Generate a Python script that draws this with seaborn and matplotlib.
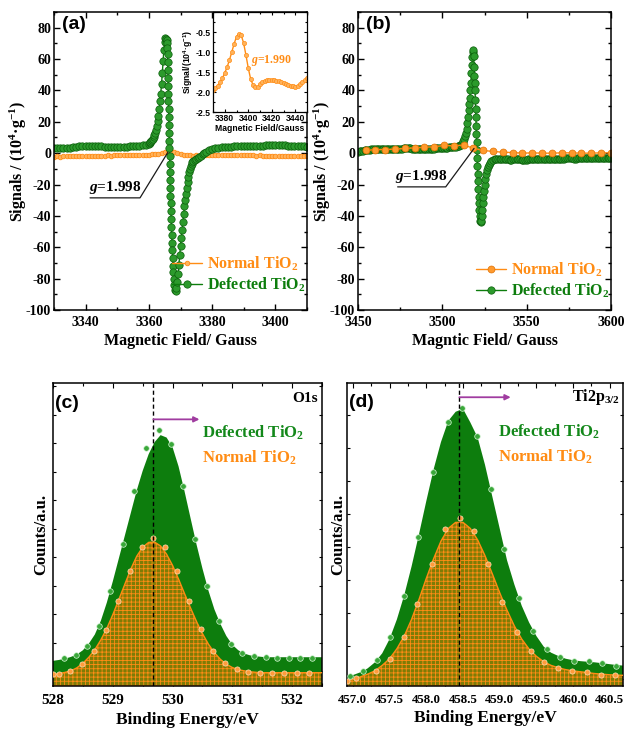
import numpy as np
import matplotlib
matplotlib.use('Agg')
import matplotlib.pyplot as plt
import seaborn as sns
from matplotlib.ticker import MultipleLocator, FormatStrFormatter, NullFormatter
from matplotlib.font_manager import FontProperties

sns.set_theme(style='ticks')
plt.rcParams['font.family'] = ['Liberation Serif', 'DejaVu Serif']
plt.rcParams['font.weight'] = 'bold'
plt.rcParams['axes.labelweight'] = 'bold'
plt.rcParams['mathtext.fontset'] = 'custom'
plt.rcParams['mathtext.it'] = 'Liberation Serif:italic:bold'
plt.rcParams['mathtext.rm'] = 'Liberation Serif:bold'
plt.rcParams['mathtext.bf'] = 'Liberation Serif:bold'
plt.rcParams['mathtext.default'] = 'regular'
plt.rcParams['axes.unicode_minus'] = False
plt.rcParams['axes.edgecolor'] = 'black'
plt.rcParams['axes.linewidth'] = 1.1
plt.rcParams['xtick.color'] = 'black'
plt.rcParams['ytick.color'] = 'black'
plt.rcParams['text.color'] = 'black'
plt.rcParams['axes.labelcolor'] = 'black'
plt.rcParams['hatch.linewidth'] = 0.6
plt.rcParams['hatch.color'] = '#ff8c14'

ORANGE = '#ff8c14'
GREEN = '#0d7d0d'
GREEN_TXT = '#13881a'
PURPLE = '#a03ca0'
OLIVE = '#7e7c06'

# ---------------- (a) EPR data, 3330-3410 G ----------------
a_norm_x = np.arange(3330, 3411, 1.0)
a_norm_y = [-2.2, -2.1, -2.2, -2.0, -2.1, -1.9, -2.0, -1.8, -1.9, -1.8,
            -1.7, -1.8, -1.6, -1.7, -1.5, -1.6, -1.5, -1.4, -1.5, -1.4,
            -1.3, -1.4, -1.2, -1.3, -1.2, -1.1, -1.2, -1.0, -1.1, -1.0,
            -0.9, -0.8, -0.6, -0.4, 0.0, 0.5, 1.0, 1.2, 0.8, 0.2,
            -0.4, -0.9, -1.2, -1.4, -1.5, -1.4, -1.5, -1.3, -1.4, -1.2,
            -1.3, -1.2, -1.1, -1.2, -1.0, -1.1, -1.2, -1.0, -1.1, -1.2,
            -1.3, -1.2, -1.4, -1.3, -1.5, -1.4, -1.6, -1.5, -1.7, -1.6,
            -1.8, -1.7, -1.9, -1.8, -2.0, -1.9, -2.0, -2.1, -2.0, -2.1,
            -2.0]

a_def_flat1_x = np.arange(3330, 3361, 1.0)
a_def_flat1_y = [3.0, 3.1, 3.2, 3.4, 3.5, 3.6, 3.9, 4.1, 4.3, 4.5,
                 4.6, 4.7, 4.6, 4.5, 4.4, 4.3, 4.1, 4.0, 3.9, 3.9,
                 4.0, 4.0, 4.1, 4.2, 4.3, 4.4, 4.5, 4.7, 5.0, 5.4, 6.0]
a_def_rise_x = np.arange(3360.25, 3365.5, 0.25)
a_def_rise_y = [6.5, 7.0, 7.6, 8.3, 9.0, 10.0, 11.3, 13.0, 15.0, 17.5,
                20.5, 24.0, 28.0, 33.0, 38.0, 44.0, 51.0, 59.0, 66.0, 71.0, 73.5]
a_def_fall_x = [3365.5, 3365.6, 3365.7, 3365.8, 3365.9, 3365.95, 3366.0, 3366.05,
                3366.1, 3366.15, 3366.2, 3366.25, 3366.3, 3366.35, 3366.4, 3366.45,
                3366.5, 3366.55, 3366.6, 3366.65, 3366.7, 3366.75, 3366.8, 3366.88,
                3366.96, 3367.04, 3367.13, 3367.22, 3367.32, 3367.42, 3367.53,
                3367.65, 3367.78, 3367.92, 3368.08, 3368.25, 3368.45]
a_def_fall_y = [73, 72, 70, 67, 63, 58, 53, 48, 43, 38, 33, 28, 23, 18, 13, 8, 3,
                -2, -7, -12, -17, -22, -27, -32, -37, -42, -47, -52, -57, -62,
                -67, -72, -76, -80, -84, -87, -88]
a_def_rec_x = [3368.7, 3369.0, 3369.25, 3369.5, 3369.75, 3370.0, 3370.25, 3370.5,
               3370.75, 3371.0, 3371.25, 3371.5, 3371.75, 3372.0, 3372.25, 3372.5,
               3372.75, 3373.0, 3373.25, 3373.5, 3373.75, 3374.0, 3374.5, 3375.0,
               3375.5, 3376.0, 3376.5, 3377.0, 3377.5, 3378.0, 3379.0, 3380.0,
               3381.0, 3382.0, 3383.0]
a_def_rec_y = [-86, -82, -77, -71, -65, -59, -54, -49, -44, -39, -34, -30, -26,
               -22, -18.5, -15, -12, -10, -8, -6.8, -5.8, -5, -4.2, -3.5, -3,
               -2.3, -1.6, -0.8, 0, 0.8, 1.8, 2.6, 3.1, 3.5, 3.8]
a_def_flat2_x = np.arange(3384, 3411, 1.0)
a_def_flat2_y = [4.0, 4.1, 4.2, 4.3, 4.3, 4.4, 4.5, 4.5, 4.6, 4.7, 4.7, 4.8, 4.8,
                 4.9, 4.9, 5.0, 5.0, 5.0, 4.9, 4.9, 4.8, 4.7, 4.6, 4.5, 4.4, 4.3, 4.2]

# inset of (a)
in_x = np.arange(3370, 3451, 2.0)
in_y = [-1.95, -1.90, -1.84, -1.76, -1.66, -1.52, -1.38, -1.20, -1.00, -0.79,
        -0.62, -0.54, -0.58, -0.77, -1.07, -1.40, -1.67, -1.82, -1.88, -1.87,
        -1.81, -1.76, -1.73, -1.71, -1.70, -1.70, -1.71, -1.72, -1.73, -1.75,
        -1.77, -1.79, -1.82, -1.84, -1.86, -1.87, -1.85, -1.81, -1.76, -1.71, -1.65]

# ---------------- (b) EPR data, 3450-3600 G ----------------
b_norm_x = [3454.5, 3460.3, 3466.1, 3471.9, 3477.7, 3483.6, 3489.4, 3495.2, 3501.0,
            3506.8, 3512.6, 3518.4, 3524.2, 3530.0, 3535.9, 3541.7, 3547.5, 3553.3,
            3559.1, 3564.9, 3570.7, 3576.6, 3582.4, 3588.2, 3594.0, 3599.8]
b_norm_y = [1.7, 2.3, 2.3, 2.6, 3.0, 3.4, 3.8, 4.1, 4.9, 4.7, 5.1, 3.2, 1.7, 1.1,
            0.6, 0.4, 0.0, 0.2, 0.0, 0.0, 0.2, 0.2, 0.0, 0.0, 0.2, 0.2]

b_def_flat1_x = np.arange(3450, 3511, 1.0)
b_def_flat1_y = [1.0, 1.2, 1.5, 1.6, 1.8, 2.0, 2.2, 2.3, 2.4, 2.5,
                 2.6, 2.7, 2.8, 2.8, 2.9, 2.9, 2.8, 2.7, 2.6, 2.5,
                 2.4, 2.4, 2.5, 2.6, 2.7, 2.8, 2.9, 3.0, 3.0, 3.1,
                 3.1, 3.0, 2.9, 2.8, 2.7, 2.6, 2.6, 2.7, 2.8, 2.8,
                 2.9, 2.9, 2.8, 2.7, 2.8, 2.9, 3.0, 3.1, 3.2, 3.3,
                 3.4, 3.5, 3.5, 3.6, 3.7, 3.8, 3.9, 4.0, 4.2, 4.4, 4.7]
b_def_rise_x = [3510.5, 3511, 3511.5, 3512, 3512.5, 3513, 3513.5, 3514, 3514.4,
                3514.8, 3515.2, 3515.6, 3516, 3516.3, 3516.6, 3516.9, 3517.2,
                3517.5, 3517.8, 3518.1, 3518.4]
b_def_rise_y = [5.0, 5.3, 5.8, 6.6, 7.7, 9.2, 11.0, 13.0, 15.5, 19.0, 23.0, 27.5,
                31.5, 35.0, 40.0, 45.0, 51.0, 56.0, 61.0, 64.5, 66.0]
b_def_fall_x = [3518.6, 3518.8, 3519.0, 3519.2, 3519.4, 3519.6, 3519.75, 3519.9,
                3520.05, 3520.2, 3520.35, 3520.5, 3520.65, 3520.8, 3520.95, 3521.1,
                3521.3, 3521.5, 3521.7, 3521.95, 3522.2, 3522.5, 3522.8, 3523.1]
b_def_fall_y = [62, 55, 49, 45, 40, 34, 28, 23, 17, 12, 7, 2, -3, -8, -13, -18,
                -23, -28, -32, -36, -40, -43, -44, -43.5]
b_def_rec_x = [3523.4, 3523.7, 3524.0, 3524.3, 3524.6, 3525.0, 3525.5, 3526.0,
               3526.5, 3527.0, 3527.5, 3528, 3529, 3530, 3531, 3532, 3533, 3534, 3535]
b_def_rec_y = [-40, -36, -32, -28, -24, -20, -16.5, -13.5, -11, -9, -7.5, -6.3,
               -5.0, -4.3, -3.9, -3.7, -3.6, -3.6, -3.7]
b_def_flat2_x = np.arange(3536, 3601, 1.0)
b_def_flat2_y = [-3.8, -3.9, -4.0, -4.0, -4.1, -4.1, -4.0, -4.0, -3.9, -3.9,
                 -4.0, -4.1, -4.2, -4.2, -4.1, -4.0, -3.9, -3.8, -3.8, -3.7,
                 -3.7, -3.8, -3.9, -3.9, -3.8, -3.7, -3.6, -3.6, -3.5, -3.5,
                 -3.6, -3.7, -3.8, -3.8, -3.7, -3.6, -3.5, -3.4, -3.4, -3.3,
                 -3.3, -3.4, -3.5, -3.5, -3.4, -3.3, -3.2, -3.2, -3.1, -3.1,
                 -3.2, -3.3, -3.4, -3.4, -3.3, -3.2, -3.1, -3.0, -3.0, -2.9,
                 -3.0, -3.1, -3.2, -3.1, -3.0]

# ---------------- (c) XPS O1s (arbitrary units) ----------------
c_fit_x = np.round(np.arange(528.0, 532.51, 0.1), 2)
c_def_fit = [8.3, 8.6, 9.0, 9.6, 10.4, 11.8, 14.0, 17.0, 21.5, 27.5,
             34.5, 42.0, 49.5, 57.0, 64.5, 71.0, 76.5, 80.5, 82.8, 82.0,
             78.8, 72.5, 64.3, 55.5, 46.8, 38.8, 31.5, 25.3, 20.5, 16.5,
             13.6, 11.8, 10.7, 10.1, 9.8, 9.6, 9.5, 9.5, 9.5, 9.5,
             9.5, 9.5, 9.5, 9.5, 9.5, 9.5]
c_norm_fit = [3.9, 4.1, 4.5, 5.0, 6.0, 7.5, 9.5, 12.0, 15.2, 19.0,
              23.5, 28.5, 33.5, 38.5, 42.8, 45.8, 47.4, 47.5, 46.2, 43.5,
              39.8, 35.3, 30.5, 25.8, 21.3, 17.3, 13.8, 11.0, 8.8, 7.2,
              6.1, 5.4, 5.0, 4.7, 4.5, 4.4, 4.4, 4.4, 4.4, 4.4,
              4.4, 4.4, 4.4, 4.4, 4.4, 4.4]
c_def_pts_x = [528.19, 528.39, 528.57, 528.77, 528.96, 529.17, 529.36, 529.56, 529.78,
               529.97, 530.18, 530.38, 530.58, 530.78, 530.97, 531.17, 531.36, 531.56,
               531.75, 531.94, 532.14, 532.33]
c_def_pts_y = [9.2, 10.3, 13.1, 19.9, 31.5, 46.9, 64.3, 78.7, 84.4, 79.8, 65.9, 48.6,
               32.9, 21.5, 14.0, 11.0, 9.9, 9.6, 9.4, 9.4, 9.4, 9.4]
c_norm_pts_x = [528.0, 528.1, 528.29, 528.49, 528.69, 528.89, 529.08, 529.28, 529.49,
                529.68, 529.87, 530.08, 530.28, 530.47, 530.67, 530.87, 531.07, 531.27,
                531.47, 531.67, 531.87, 532.08, 532.28]
c_norm_pts_y = [3.9, 4.1, 5.0, 7.2, 11.6, 18.4, 27.9, 38.1, 46.0, 48.9, 46.0, 38.1,
                28.1, 18.8, 11.6, 7.7, 5.7, 4.7, 4.4, 4.4, 4.4, 4.4, 4.4]
c_peak_line = 529.68
c_shift = (529.68, 530.45)
c_xticks = [528, 529, 530, 531, 532]

# ---------------- (d) XPS Ti2p3/2 (arbitrary units) ----------------
d_fit_x = np.round(np.arange(456.9, 460.71, 0.1), 2)
d_def_fit = [3.2, 3.6, 4.5, 5.8, 7.8, 10.8, 15.5, 22.0, 30.0, 39.5, 50.0,
             61.0, 71.5, 80.5, 87.5, 90.5, 91.5, 87.0, 82.0, 73.0, 62.5,
             52.0, 41.5, 33.5, 26.5, 21.0, 16.5, 13.0, 11.0, 9.9, 9.0,
             8.5, 8.2, 8.0, 7.8, 7.5, 7.2, 6.9, 6.7]
d_norm_fit = [1.5, 2.2, 3.0, 3.9, 5.0, 6.8, 9.0, 12.3, 16.5, 22.0, 28.5,
              35.5, 42.0, 47.8, 52.0, 54.0, 54.0, 52.0, 48.2, 43.0, 37.0,
              30.8, 25.0, 19.8, 15.5, 12.2, 9.8, 8.0, 6.8, 6.0, 5.4,
              5.0, 4.7, 4.4, 4.1, 3.9, 3.7, 3.6, 3.5]
d_def_pts_x = [456.96, 457.14, 457.33, 457.51, 457.70, 457.89, 458.09, 458.29, 458.49,
               458.69, 458.88, 459.06, 459.26, 459.45, 459.64, 459.82, 460.01, 460.21,
               460.40, 460.58]
d_def_pts_y = [3.4, 5.1, 8.7, 16.3, 29.8, 49.1, 70.6, 87.1, 91.6, 82.6, 65.0, 45.3,
               29.0, 18.0, 12.1, 9.6, 8.4, 8.1, 7.6, 6.7]
d_norm_pts_x = [456.92, 457.04, 457.31, 457.50, 457.69, 457.88, 458.08, 458.25, 458.46,
                458.65, 458.84, 459.03, 459.23, 459.42, 459.61, 459.80, 459.99, 460.19,
                460.38, 460.57]
d_norm_pts_y = [1.7, 2.5, 5.1, 9.0, 16.3, 27.2, 40.2, 51.7, 55.4, 51.1, 40.2, 27.8,
                17.8, 11.5, 7.9, 6.0, 5.1, 4.5, 3.7, 3.7]
d_peak_line = 458.45
d_shift = (458.45, 459.15)
d_xticks = [457.0, 457.5, 458.0, 458.5, 459.0, 459.5, 460.0, 460.5]

# ---------------- figure & axes ----------------
W, H = 624, 731
fig = plt.figure(figsize=(W / 100, H / 100), dpi=100)


def px_axes(l, t, r, b):
    return fig.add_axes([l / W, 1 - b / H, (r - l) / W, (b - t) / H])


axA = px_axes(54, 12, 307, 310)
axB = px_axes(358, 12, 611, 310)
axIn = px_axes(213, 12, 307, 112)
axC = px_axes(53, 383, 322, 686)
axD = px_axes(347, 383, 623, 686)

serif_leg = FontProperties(family='Liberation Serif', weight='bold', size=11.5)
sans_small = FontProperties(family='Liberation Sans', weight='bold', size=6.2)


def style_epr(ax):
    ax.tick_params(which='both', direction='in', top=True, right=True,
                   labelsize=10, width=1.0, pad=2)
    ax.tick_params(axis='x', which='both', pad=4.5)
    ax.tick_params(which='major', length=4)
    ax.tick_params(which='minor', length=2.2)
    ax.set_ylim(-100, 90)
    ax.yaxis.set_major_locator(MultipleLocator(20))
    ax.yaxis.set_minor_locator(MultipleLocator(10))
    ax.set_ylabel('Signals / (10$^4$·g$^{-1}$)', fontsize=11.5, labelpad=-2)


def panel_label(ax, s, x, y):
    ax.text(x, y, s, transform=ax.transAxes, ha='left', va='top',
            fontfamily='Liberation Sans', fontweight='bold', fontsize=14)


def g_note(ax, text, xt, yt, x1, x2, xp, yp):
    ax.text(xt, yt, text, ha='center', va='bottom', fontsize=11)
    ax.plot([x1, x2, xp], [yt - 1.5, yt - 1.5, yp], color='k', lw=0.9)


green_kw = dict(marker='o', ms=5.3, mfc='#2c9a2c', mec='#0b5e0b', mew=0.5,
                lw=1.0, color=GREEN, estimator=None, sort=False)

# ---- panel (a)
sns.lineplot(x=a_norm_x, y=a_norm_y, ax=axA, color=ORANGE, lw=1.0, marker='o',
             ms=3.3, mfc='#ffb35c', mec=ORANGE, mew=0.6, estimator=None, sort=False,
             label='Normal TiO$_2$')
a_def_x = np.concatenate([a_def_flat1_x, a_def_rise_x, a_def_fall_x, a_def_rec_x, a_def_flat2_x])
a_def_y = np.concatenate([a_def_flat1_y, a_def_rise_y, a_def_fall_y, a_def_rec_y, a_def_flat2_y])
sns.lineplot(x=a_def_x, y=a_def_y, ax=axA, label='Defected TiO$_2$', **green_kw)
axA.set_xlim(3330, 3410)
axA.xaxis.set_major_locator(MultipleLocator(20))
axA.xaxis.set_minor_locator(MultipleLocator(10))
style_epr(axA)
axA.set_xlabel('Magnetic Field/ Gauss', fontsize=11.5, labelpad=3)
h, l = axA.get_legend_handles_labels()
axA.legend(h, l, loc='lower right', bbox_to_anchor=(1.03, 0.02), frameon=False,
           prop=serif_leg, labelcolor='linecolor', handlelength=1.9,
           handletextpad=0.3, labelspacing=0.2, borderaxespad=0.2)
panel_label(axA, '(a)', 0.03, 0.985)
g_note(axA, '$\\mathit{g}$=1.998', 3349.3, -27.0, 3341.4, 3357.2, 3366.0, 0.5)

# ---- inset
sns.lineplot(x=in_x, y=in_y, ax=axIn, color=ORANGE, lw=1.0, marker='o', ms=3.0,
             mfc='#ffb35c', mec=ORANGE, mew=0.5, estimator=None, sort=False)
axIn.set_xlim(3370, 3450)
axIn.set_ylim(-2.5, 0)
axIn.set_xticks([3380, 3400, 3420, 3440])
axIn.set_yticks([-2.5, -2.0, -1.5, -1.0, -0.5])
axIn.yaxis.set_major_formatter(FormatStrFormatter('%.1f'))
axIn.xaxis.set_minor_locator(MultipleLocator(10))
axIn.yaxis.set_minor_locator(MultipleLocator(0.25))
axIn.tick_params(which='both', direction='in', top=True, right=True, width=0.8, pad=1.5)
axIn.tick_params(which='major', length=2.5)
axIn.tick_params(which='minor', length=1.5)
for lab in axIn.get_xticklabels() + axIn.get_yticklabels():
    lab.set_fontproperties(sans_small)
axIn.set_xlabel('Magnetic Field/Gauss', fontproperties=sans_small, labelpad=0.5)
axIn.set_ylabel('Signal/(10$^4$·g$^{-1}$)', fontproperties=sans_small, labelpad=0.5)
for s in axIn.spines.values():
    s.set_linewidth(0.9)
axIn.text(0.4, 0.52, '$\\mathit{g}$=1.990', transform=axIn.transAxes, color=ORANGE,
          fontsize=8.5, ha='left', va='center')

# ---- panel (b)
b_def_x = np.concatenate([b_def_flat1_x, b_def_rise_x, b_def_fall_x, b_def_rec_x, b_def_flat2_x])
b_def_y = np.concatenate([b_def_flat1_y, b_def_rise_y, b_def_fall_y, b_def_rec_y, b_def_flat2_y])
sns.lineplot(x=b_def_x, y=b_def_y, ax=axB, label='Defected TiO$_2$', **green_kw)
sns.lineplot(x=b_norm_x, y=b_norm_y, ax=axB, color=ORANGE, lw=1.0, marker='o',
             ms=5.0, mfc='#ff9a2e', mec='#e07000', mew=0.5, estimator=None, sort=False,
             label='Normal TiO$_2$')
axB.set_xlim(3450, 3600)
axB.xaxis.set_major_locator(MultipleLocator(50))
axB.xaxis.set_minor_locator(MultipleLocator(25))
style_epr(axB)
axB.set_xlabel('Magntic Field/ Gauss', fontsize=11.5, labelpad=3)
h, l = axB.get_legend_handles_labels()
axB.legend(h[::-1], l[::-1], loc='lower right', bbox_to_anchor=(1.03, 0.0), frameon=False,
           prop=serif_leg, labelcolor='linecolor', handlelength=1.9,
           handletextpad=0.3, labelspacing=0.2, borderaxespad=0.2)
panel_label(axB, '(b)', 0.03, 0.985)
g_note(axB, '$\\mathit{g}$=1.998', 3487.5, -20.0, 3473.5, 3502.0, 3518.8, 3.0)


# ---- panels (c), (d)
def xps(ax, fx, fdef, fnorm, px_d, py_d, px_n, py_n, vline, ytick_pos, ylpad):
    ax.fill_between(fx, 0, fdef, facecolor=GREEN, edgecolor='none', lw=0, zorder=1)
    ax.fill_between(fx, 0, fnorm, facecolor=OLIVE, edgecolor=ORANGE, hatch='++++',
                    lw=0, zorder=2)
    sns.lineplot(x=fx, y=fnorm, ax=ax, color=ORANGE, lw=1.0, zorder=3,
                 estimator=None, sort=False)
    sns.scatterplot(x=px_d, y=py_d, ax=ax, color='#3aa83a', edgecolor='#d9f5d9',
                    linewidth=0.5, s=16, zorder=4)
    sns.scatterplot(x=px_n, y=py_n, ax=ax, color='#ff9c3c', edgecolor='#ffe0b8',
                    linewidth=0.5, s=14, zorder=4)
    ax.axvline(vline, color='black', ls=(0, (3, 2)), lw=1.0, zorder=5)
    ax.set_ylim(0, 100)
    ax.set_yticks(ytick_pos)
    ax.yaxis.set_major_formatter(NullFormatter())
    ax.tick_params(which='both', direction='in', top=True, right=True, width=0.8)
    ax.tick_params(which='major', length=3.5)
    ax.tick_params(which='minor', length=2)
    ax.tick_params(axis='y', which='both', length=2.5)
    ax.set_ylabel('Counts/a.u.', fontsize=12, labelpad=ylpad)
    ax.set_xlabel('Binding Energy/eV', fontsize=12.5, labelpad=3)


xps(axC, c_fit_x, c_def_fit, c_norm_fit, c_def_pts_x, c_def_pts_y, c_norm_pts_x,
    c_norm_pts_y, c_peak_line, np.arange(4.9, 100, 9.4), -1)
axC.set_xlim(528, 532.5)
axC.set_xticks(c_xticks)
axC.xaxis.set_minor_locator(MultipleLocator(0.5))
axC.tick_params(axis='x', labelsize=11, pad=6)
axC.annotate('', xy=(c_shift[1], 88), xytext=(c_shift[0], 88),
             arrowprops=dict(arrowstyle='-|>', color=PURPLE, lw=1.3, mutation_scale=8,
                             shrinkA=0, shrinkB=0), zorder=6)
panel_label(axC, '(c)', 0.008, 0.96)
axC.text(0.985, 0.95, 'O1s', transform=axC.transAxes, ha='right', va='center', fontsize=11)
axC.text(0.554, 0.835, 'Defected TiO$_2$', transform=axC.transAxes, color=GREEN_TXT,
         ha='left', va='center', fontsize=12)
axC.text(0.554, 0.752, 'Normal TiO$_2$', transform=axC.transAxes, color=ORANGE,
         ha='left', va='center', fontsize=12)

xps(axD, d_fit_x, d_def_fit, d_norm_fit, d_def_pts_x, d_def_pts_y, d_norm_pts_x,
    d_norm_pts_y, d_peak_line, np.arange(2.4, 100, 10.9), -3)
axD.set_xlim(456.92, 460.68)
axD.set_xticks(d_xticks)
axD.xaxis.set_major_formatter(FormatStrFormatter('%.1f'))
axD.xaxis.set_minor_locator(MultipleLocator(0.25))
axD.tick_params(axis='x', labelsize=9.3, pad=6)
axD.annotate('', xy=(d_shift[1], 95.3), xytext=(d_shift[0], 95.3),
             arrowprops=dict(arrowstyle='-|>', color=PURPLE, lw=1.3, mutation_scale=8,
                             shrinkA=0, shrinkB=0), zorder=6)
panel_label(axD, '(d)', 0.008, 0.965)
axD.text(0.99, 0.955, 'Ti2p$_{3/2}$', transform=axD.transAxes, ha='right', va='center',
         fontsize=11.5)
axD.text(0.547, 0.838, 'Defected TiO$_2$', transform=axD.transAxes, color=GREEN_TXT,
         ha='left', va='center', fontsize=12)
axD.text(0.547, 0.756, 'Normal TiO$_2$', transform=axD.transAxes, color=ORANGE,
         ha='left', va='center', fontsize=12)

for ax in (axA, axB, axC, axD):
    for s in ax.spines.values():
        s.set_linewidth(1.1)
        s.set_visible(True)

fig.savefig('out.png', dpi=100)
